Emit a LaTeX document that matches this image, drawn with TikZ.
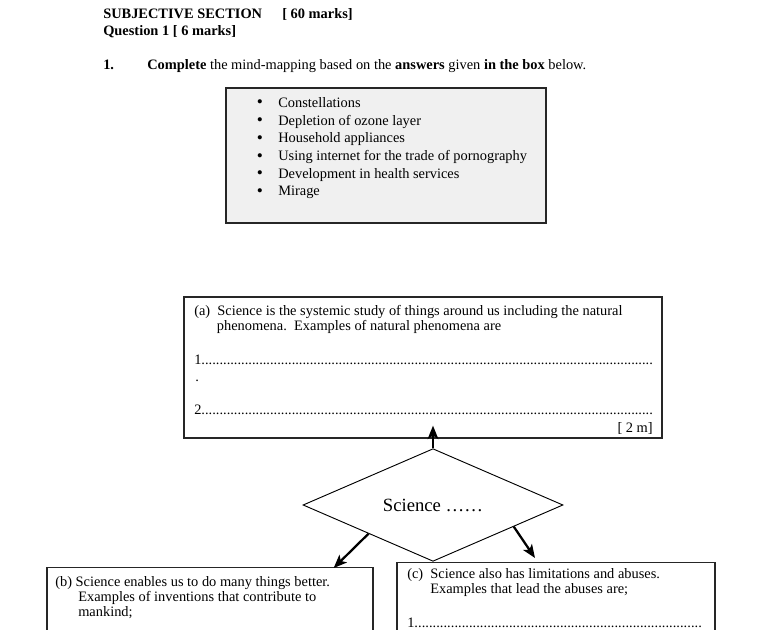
\documentclass[tikz,border=0pt]{standalone}
\usepackage{fontspec}
\setmainfont{Liberation Serif}
\usetikzlibrary{shapes,arrows,arrows.meta,positioning,calc}

% a numbered answer line filled with dots
\newcommand{\dotline}[2]{\makebox[#2][l]{#1\xleaders\hbox{.}\hfill}}
% a list bullet with its gap
\newcommand{\bul}{\makebox[15.4pt][l]{\hspace*{-0.6pt}\smash{\fontsize{13}{13}\selectfont\raisebox{-0.5pt}{\textbullet}}}}

\begin{document}
\begin{tikzpicture}[x=0.75pt, y=-0.75pt, font=\fontsize{10.8}{11.25}\selectfont]
% Define styles
\tikzstyle{answerbox} = [rectangle, draw=black!85, line width=0.9pt, fill=black!6, minimum width=240pt, minimum height=101.25pt, inner sep=0pt]
\tikzstyle{partbox} = [rectangle, draw=black!85, line width=1pt, inner sep=0pt]
\tikzstyle{centre} = [diamond, draw=black, line width=0.7pt, minimum width=195pt, minimum height=72pt, inner sep=0pt, font=\fontsize{14}{16}\selectfont]
\tikzstyle{txt} = [anchor=base west, inner sep=0pt, align=left]
\tikzstyle{arrow} = [line width=1.7pt,->,>={Stealth[length=10pt,width=8pt,inset=2.5pt]}]

\useasboundingbox (0,0) rectangle (768,630);
\fill [white] (0,0) rectangle (768,630);

% Header
\node (section) [txt, font=\fontsize{10.8}{11.25}\selectfont\bfseries] at (103,19) {SUBJECTIVE SECTION};
\node (total) [txt, font=\fontsize{10.8}{11.25}\selectfont\bfseries] at (282,19) {[ 60 marks]};
\node (question) [txt, font=\fontsize{10.8}{11.25}\selectfont\bfseries] at (103,36) {Question 1 [ 6 marks]};
\node (qnum) [txt, font=\fontsize{10.8}{11.25}\selectfont\bfseries] at (103,70) {1.};
\node (task) [txt] at (147,70) {\textbf{Complete} the mind-mapping based on the \textbf{answers} given \textbf{in the box} below.};

% Box with the answers (base of a multi-line node = its last line)
\node (answers) [answerbox] at (386,155.5) {};
\node (list) [txt, font=\fontsize{10.8}{13.3}\selectfont] at (257.5,196) {%
\bul Constellations\\
\bul Depletion of ozone layer\\
\bul Household appliances\\
\bul Using internet for the trade of pornography\\
\bul Development in health services\\
\bul Mirage};

% Part (a)
\node (boxa) [partbox, minimum width=358.5pt, minimum height=105.75pt] at (423,367.5) {};
\node (texta) [txt] at (194,331) {(a)\ \ Science is the systemic study of things around us including the natural\\
\hspace*{17pt}phenomena.\ \ Examples of natural phenomena are};
\node (a1) [txt] at (194,365) {\dotline{1}{344pt}};
\node (a0) [txt] at (195,382) {.};
\node (a2) [txt] at (194,415) {\dotline{2}{344pt}};
\node (marka) [anchor=base east, inner sep=0pt] at (653,433) {[ 2 m]};

% Centre of the map
\node (sci) [centre] at (433,505) {Science ……};

% Part (b)
\node (boxb) [partbox, anchor=north, minimum width=244.5pt, minimum height=90pt] at (210,567) {};
\node (textb) [txt] at (55,617) {(b) Science enables us to do many things better.\\
\hspace*{17.25pt}Examples of inventions that contribute to\\
\hspace*{17.25pt}mankind;};

% Part (c)
\node (boxc) [partbox, anchor=north, minimum width=238.5pt, minimum height=90pt] at (556,562) {};
\node (textc) [txt] at (407,594) {(c)\ \ Science also has limitations and abuses.\\
\hspace*{17.25pt}Examples that lead the abuses are;};
\node (c1) [txt] at (407,628) {\dotline{1}{221pt}};

% Arrow tips
\coordinate (atip) at ($(boxa.south)+(10,-13)$);
\coordinate (btip) at ($(boxb.north east)+(-40,1)$);
\coordinate (ctip) at ($(boxc.north)+(-21,-4)$);

% Draw arrows
\draw [arrow] (sci.north) -- (atip);
\draw [arrow] (sci.204) -- (btip);
\draw [arrow] (sci.-15) -- (ctip);
\end{tikzpicture}
\end{document}
